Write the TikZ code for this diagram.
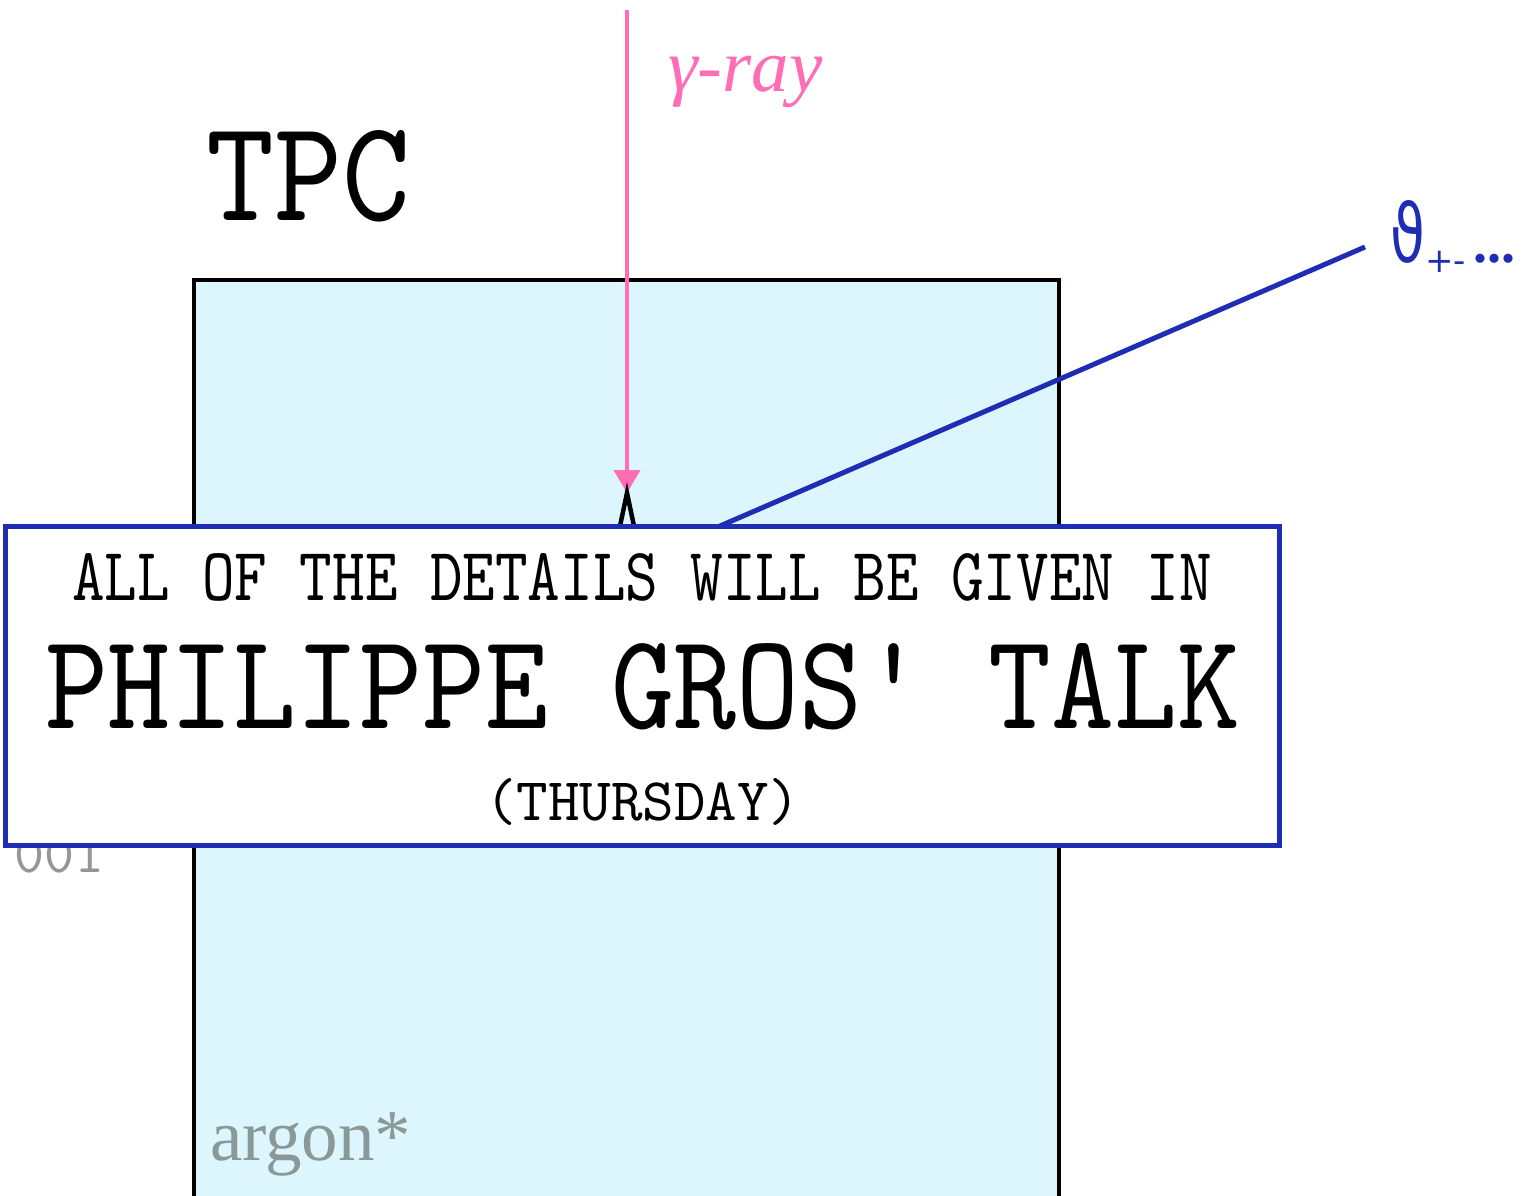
\documentclass[tikz,border=0pt]{standalone}
\usepackage{fontspec}
\usepackage{graphicx}
\usetikzlibrary{arrows.meta}
\newfontfamily\timesf{Liberation Serif}
\newfontfamily\dejavu{DejaVu Sans}
\definecolor{rayPink}{RGB}{255,110,180}
\definecolor{lineBlue}{RGB}{30,45,180}
\definecolor{tpcFill}{RGB}{221,246,253}
\definecolor{argonGray}{RGB}{138,152,152}
\definecolor{numGray}{RGB}{150,150,150}
\begin{document}
\begin{tikzpicture}[x=1pt,y=-1pt,
  txt/.style={inner sep=0pt, outer sep=0pt},
  tpcbox/.style={draw=black, line width=4pt, fill=tpcFill, minimum width=865pt, minimum height=975pt, inner sep=0pt},
  msgbox/.style={draw=lineBlue, line width=5pt, fill=white, minimum width=1274pt, minimum height=319pt, inner sep=0pt},
  rayarrow/.style={draw=rayPink, line width=4pt, -{Triangle[width=26pt,length=23pt]}},
  conelines/.style={draw=black, line width=4.5pt},
  trackline/.style={draw=lineBlue, line width=5pt}
]
\useasboundingbox (0,0) rectangle (1524,1196);
% background number partly hidden
\node[txt, anchor=base west, text=numGray] (num) at (15,872) {\resizebox{90pt}{36pt}{\ttfamily 001}};
% TPC volume
\node[tpcbox] (tpc) at (626.5,767) {};
\node[txt, anchor=base west] (tpclabel) at (206,220) {\resizebox{204pt}{90pt}{\ttfamily TPC}};
\node[txt, anchor=base west, text=argonGray] (argon) at (210,1160) {\fontsize{73}{80}\selectfont\timesf argon*};
% gamma ray
\coordinate (src) at (627,10);
\coordinate (vtx) at (627,493);
\coordinate (coneL) at (620,526);
\coordinate (coneR) at (634,526);
\draw[rayarrow] (src) -- (vtx);
\draw[conelines] (coneL) -- (vtx) -- (coneR);
\node[txt, anchor=base west, text=rayPink] (gammalabel) at (668,92) {\fontsize{75}{80}\selectfont\timesf\itshape γ-ray};
% track
\node[txt, anchor=base west, text=lineBlue] (theta) at (1390,262) {\dejavu\resizebox{35pt}{62pt}{ϑ}\raisebox{-10pt}{\fontsize{34}{34}\selectfont +-}\hspace{8pt}{\fontsize{56}{56}\selectfont\timesf\bfseries...}};
\coordinate (trackStart) at (720,526);
\coordinate (trackEnd) at (1365,247);
\draw[trackline] (trackStart) -- (trackEnd);
% message box
\node[msgbox] (msg) at (642,685.5) {};
\node[txt, anchor=base west] (line1) at (72,600) {\resizebox{1140pt}{47pt}{\ttfamily ALL OF THE DETAILS WILL BE GIVEN IN}};
\node[txt, anchor=base west] (line2) at (45,728) {\resizebox{1195pt}{85pt}{\ttfamily PHILIPPE GROS' TALK}};
\node[txt, anchor=base west] (line3) at (485,820) {\resizebox{315pt}{42pt}{\ttfamily (THURSDAY)}};
\end{tikzpicture}
\end{document}
